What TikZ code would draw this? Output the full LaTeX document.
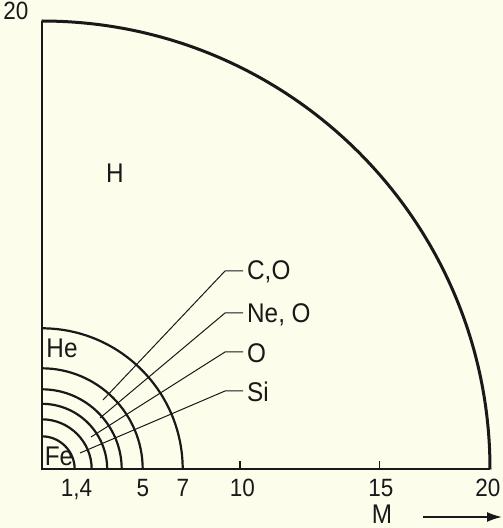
\documentclass[tikz,border=0pt]{standalone}
\usepackage{fontspec}
\setmainfont[FakeStretch=0.9]{Liberation Sans}
\usetikzlibrary{arrows.meta}
\definecolor{bg}{RGB}{253,253,236}
\definecolor{ink}{RGB}{25,25,25}
\begin{document}
\begin{tikzpicture}[x=1pt,y=1pt,
  axisline/.style={draw=ink,line width=2pt},
  ringline/.style={draw=ink,line width=2.2pt},
  outerline/.style={draw=ink,line width=3pt},
  leaderline/.style={draw=ink,line width=1pt},
  tickline/.style={draw=ink,line width=1.4pt},
  numlabel/.style={text=ink,font=\fontsize{25}{25}\selectfont,inner sep=0pt,anchor=base},
  elemlabel/.style={text=ink,font=\fontsize{27}{27}\selectfont,inner sep=0pt,anchor=base},
  sidelabel/.style={text=ink,font=\fontsize{27}{27}\selectfont,inner xsep=4pt,inner ysep=0pt,anchor=base west}]
\useasboundingbox (0,0) rectangle (503,528);
\fill[bg] (0,0) rectangle (503,528);
\coordinate (O) at (41.7,58.7);
\coordinate (ytop) at (41.7,506.5);
\coordinate (xend) at (490,58.7);
% axes
\draw[axisline] (ytop) -- (O) -- (xend);
% outer boundary (H)
\draw[outerline] (xend) arc[start angle=0,end angle=90,radius=448.3];
% shells
\foreach \r in {33,50,65.5,80,101,141}
  \draw[ringline] (O) ++(\r,0) arc[start angle=0,end angle=90,radius=\r];
% ticks
\coordinate (t10) at (240,58.7);
\coordinate (t15) at (379.5,58.7);
\draw[tickline] (t10) -- ++(0,8);
\draw[tickline] (t15) -- ++(0,8);
% axis labels
\node[numlabel] (y20) at (16,508) {20};
\node[numlabel] (x14) at (76.5,31) {1,4};
\node[numlabel] (x5) at (143,31) {5};
\node[numlabel] (x7) at (183,31) {7};
\node[numlabel] (x10) at (242.5,31) {10};
\node[numlabel] (x15) at (381,31) {15};
\node[numlabel] (x20) at (488,31) {20};
\node[elemlabel] (M) at (382,5) {M};
\coordinate (arrS) at (423,11);
\coordinate (arrE) at (502,11);
\draw[draw=ink,line width=1.8pt,-{Latex[length=15pt,width=10pt]}] (arrS) -- (arrE);
% element labels
\node[elemlabel] (H) at (115,345) {H};
\node[elemlabel] (He) at (62,170) {He};
\node[elemlabel] (Fe) at (59,62) {Fe};
\node[sidelabel] (CO) at (243,248) {C,O};
\node[sidelabel] (NeO) at (243,205) {Ne, O};
\node[sidelabel] (Ox) at (243,165) {O};
\node[sidelabel] (Si) at (243,126) {Si};
% leaders
\coordinate (iCO) at (103,128);
\coordinate (iNeO) at (100,110);
\coordinate (iOx) at (91,91);
\coordinate (iSi) at (80,75);
\coordinate (eCO) at (225,257);
\coordinate (eNeO) at (225,215);
\coordinate (eOx) at (225,176);
\coordinate (eSi) at (225,137);
\draw[leaderline] (iCO) -- (eCO) -- (eCO -| CO.west);
\draw[leaderline] (iNeO) -- (eNeO) -- (eNeO -| NeO.west);
\draw[leaderline] (iOx) -- (eOx) -- (eOx -| Ox.west);
\draw[leaderline] (iSi) -- (eSi) -- (eSi -| Si.west);
\end{tikzpicture}
\end{document}
